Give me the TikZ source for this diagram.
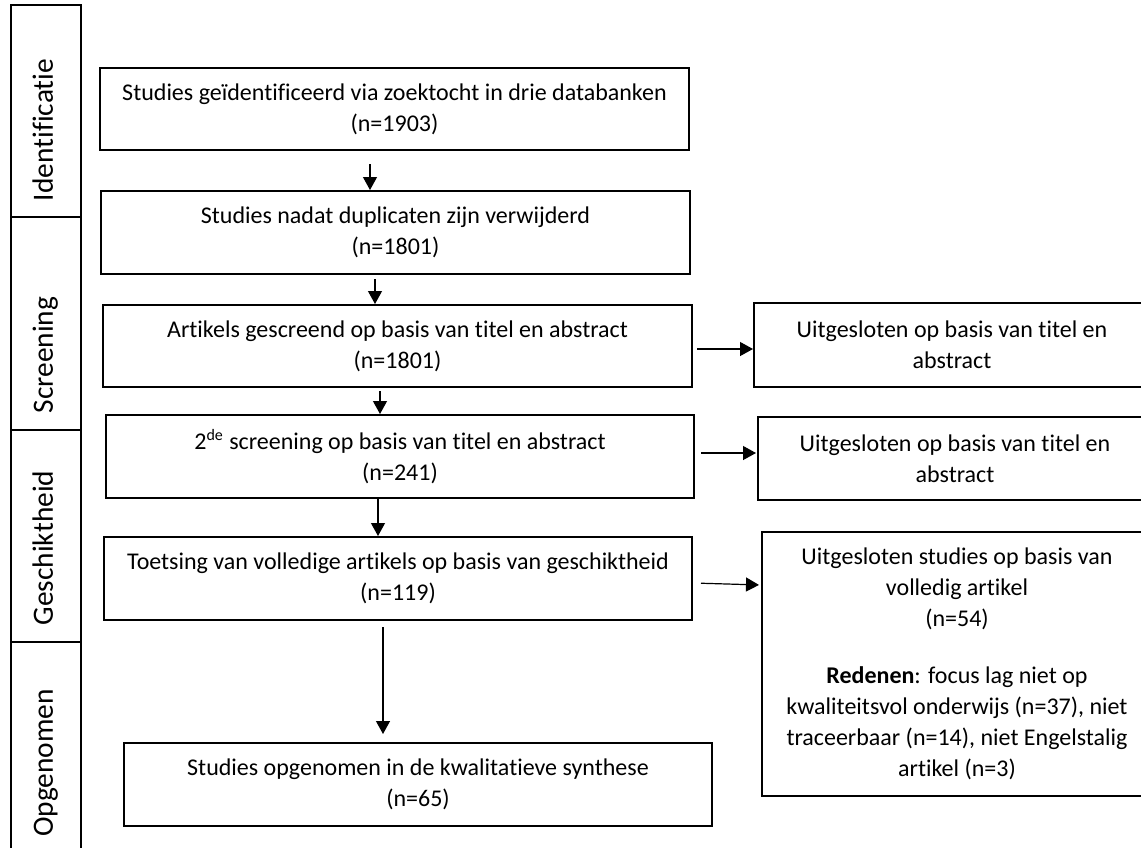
\documentclass[tikz,border=0pt]{standalone}
\usepackage{fontspec}
\setmainfont{Carlito}[Ligatures=NoCommon]
\usetikzlibrary{arrows.meta}
\begin{document}
\begin{tikzpicture}[x=0.5pt,y=-0.5pt,
 box/.style={draw,line width=1pt,inner sep=0pt,align=center,font=\fontsize{12}{15.5}\selectfont},
 arr/.style={line width=0.6pt,-{Triangle[length=6.5pt,width=7pt]}},
 lab/.style={rotate=90,anchor=base,inner sep=0pt,font=\fontsize{14.7}{16}\selectfont},
 col/.style={line width=1pt}]
\useasboundingbox (0,0) rectangle (1141,847);
% phase column
\draw[col] (10.5,860) -- (10.5,5) -- (81,5) -- (81,860);
\draw[col] (10.5,217) -- (81,217);
\draw[col] (10.5,430) -- (81,430);
\draw[col] (10.5,642) -- (81,642);
\node[lab] (lid) at (53,130) {Identificatie};
\node[lab] (lsc) at (53,355) {Screening};
\node[lab] (lge) at (53,548) {Geschiktheid};
\node[lab] (lop) at (53,763) {Opgenomen};
% main boxes
\node[box,minimum width=294.5pt,minimum height=41pt] (b1) at (394.5,109) {Studies geïdentificeerd via zoektocht in drie databanken\\(n=1903)};
\node[box,minimum width=294.5pt,minimum height=41.5pt] (b2) at (395.5,232.5) {Studies nadat duplicaten zijn verwijderd\\(n=1801)};
\node[box,minimum width=294.5pt,minimum height=41pt] (b3) at (397.5,346) {Artikels gescreend op basis van titel en abstract\\(n=1801)};
\node[box,minimum width=294pt,minimum height=41.5pt] (b4) at (400,456.5) {2\textsuperscript{de} screening op basis van titel en abstract\\(n=241)};
\node[box,minimum width=294pt,minimum height=41.5pt] (b5) at (398,578.5) {Toetsing van volledige artikels op basis van geschiktheid\\(n=119)};
\node[box,minimum width=294pt,minimum height=41.5pt] (b6) at (418,784.5) {Studies opgenomen in de kwalitatieve synthese\\(n=65)};
% right boxes
\node[box,minimum width=198pt,minimum height=42pt] (r1) at (952,345) {Uitgesloten op basis van titel en\\abstract};
\node[box,minimum width=197pt,minimum height=41.5pt] (r2) at (955,458.5) {Uitgesloten op basis van titel en\\abstract};
\node[box,minimum width=195pt,minimum height=132pt] (r3) at (957,664) {Uitgesloten studies op basis van\\volledig artikel\\(n=54)\\[13pt]\textbf{Redenen}: focus lag niet op\\kwaliteitsvol onderwijs (n=37), niet\\traceerbaar (n=14), niet Engelstalig\\artikel (n=3)};
% arrow positions
\coordinate (xa1) at (370,0);
\coordinate (xa2) at (375,0);
\coordinate (xa3) at (380,0);
\coordinate (xa4) at (378,0);
\coordinate (xa5) at (383,0);
\coordinate (yh1) at (0,349);
\coordinate (yh2) at (0,453);
\coordinate (yh3s) at (0,583);
\coordinate (yh3e) at (0,585);
\draw[arr,shorten <=6.5pt] (b1.south -| xa1) -- (b2.north -| xa1);
\draw[arr,shorten <=2pt] (b2.south -| xa2) -- (b3.north -| xa2);
\draw[arr,shorten <=1.5pt] (b3.south -| xa3) -- (b4.north -| xa3);
\draw[arr] (b4.south -| xa4) -- (b5.north -| xa4);
\draw[arr,shorten <=3pt,shorten >=4pt] (b5.south -| xa5) -- (b6.north -| xa5);
\draw[arr,shorten <=2pt] (b3.east |- yh1) -- (r1.west |- yh1);
\draw[arr,shorten <=3pt,shorten >=0.5pt] (b4.east |- yh2) -- (r2.west |- yh2);
\draw[arr,shorten <=4pt,shorten >=1pt] (b5.east |- yh3s) -- (r3.west |- yh3e);
\end{tikzpicture}
\end{document}
